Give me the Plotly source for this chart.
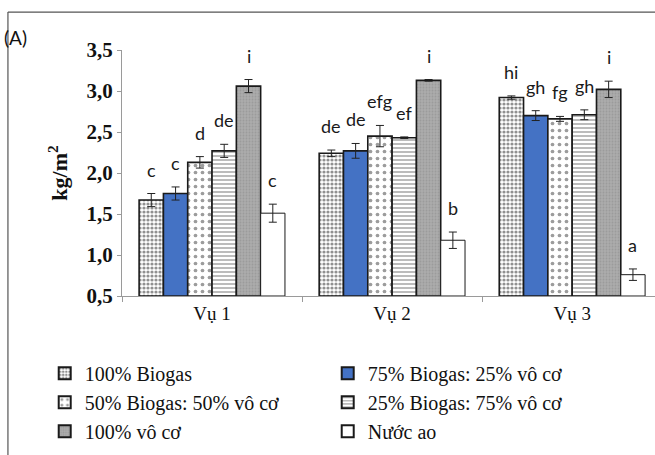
import plotly.graph_objects as go

seasons = ["Vụ 1", "Vụ 2", "Vụ 3"]
series_names = ["100% Biogas", "75% Biogas: 25% vô cơ", "50% Biogas: 50% vô cơ",
                "25% Biogas: 75% vô cơ", "100% vô cơ", "Nước ao"]
values = [
    [1.67, 2.24, 2.92],
    [1.75, 2.27, 2.70],
    [2.13, 2.45, 2.66],
    [2.27, 2.43, 2.71],
    [3.06, 3.13, 3.02],
    [1.51, 1.18, 0.76],
]
errors = [
    [0.08, 0.04, 0.02],
    [0.08, 0.09, 0.06],
    [0.07, 0.13, 0.03],
    [0.08, 0.01, 0.06],
    [0.08, 0.01, 0.10],
    [0.11, 0.10, 0.07],
]
letters = [
    ["c", "de", "hi"],
    ["c", "de", "gh"],
    ["d", "efg", "fg"],
    ["de", "ef", "gh"],
    ["i", "i", "i"],
    ["c", "b", "a"],
]
y_ticks = [0.5, 1.0, 1.5, 2.0, 2.5, 3.0, 3.5]

styles = [
    dict(color="white", pattern=dict(shape=".", fgcolor="#222222", size=4, solidity=0.5, bgcolor="white")),
    dict(color="#4472c4"),
    dict(color="white", pattern=dict(shape=".", fgcolor="#3a3a3a", size=7, solidity=0.22, bgcolor="white")),
    dict(color="white", pattern=dict(shape="-", fgcolor="#6a6a6a", size=4, solidity=0.45, bgcolor="white")),
    dict(color="#a8a8a8", pattern=dict(shape=".", fgcolor="#8c8c8c", size=3, solidity=0.3, bgcolor="#ababab")),
    dict(color="white"),
]

fig = go.Figure()
for i, name in enumerate(series_names):
    st = styles[i]
    marker = dict(color=st["color"], line=dict(color="#1a1a1a", width=1.6 if i < 5 else 1.0))
    if "pattern" in st:
        marker["pattern"] = st["pattern"]
    fig.add_trace(go.Bar(
        name=name, x=seasons, y=[v - 0.5 for v in values[i]], base=0.5,
        marker=marker,
        error_y=dict(type="data", array=errors[i], color="#222", thickness=1, width=4),
        hoverinfo="skip",
    ))

bargap = 0.19
n = len(series_names)
bw = (1 - bargap) / n
letter_font = dict(family="Lato, Noto Sans, sans-serif", size=18, color="#1a1a1a")
for i in range(n):
    for g in range(len(seasons)):
        xc = g - (1 - bargap) / 2 + bw * (i + 0.5)
        fig.add_annotation(x=xc, y=values[i][g] + errors[i][g], text=letters[i][g],
                           showarrow=False, yanchor="bottom", yshift=11, font=letter_font)

fig.add_annotation(xref="paper", yref="paper", x=-0.226, y=1.05, xanchor="left", yanchor="middle",
                   text="(A)", showarrow=False,
                   font=dict(family="Lato, Noto Sans, sans-serif", size=19, color="#111"))

# frame lines
fig.add_shape(type="line", xref="paper", yref="paper", x0=-0.214, x1=1.0, y0=1.154, y1=1.154,
              layer="above", line=dict(color="#555", width=1.2))
fig.add_shape(type="line", xref="paper", yref="paper", x0=-0.214, x1=-0.214, y0=1.154, y1=-0.65,
              layer="above", line=dict(color="#555", width=1.2))

fig.update_layout(
    width=655, height=455,
    margin=dict(l=122, r=0, t=50, b=159, autoexpand=False),
    paper_bgcolor="white", plot_bgcolor="white",
    barmode="group", bargap=bargap, bargroupgap=0,
    separators=", ",
    showlegend=True,
    legend=dict(orientation="h", x=-0.145, xanchor="left", y=-0.235, yanchor="top",
                entrywidth=238, entrywidthmode="pixels",
                font=dict(family="Liberation Serif, serif", size=20, color="#111"),
                itemsizing="constant", tracegroupgap=0),
    xaxis=dict(type="category", range=[-0.5, 2.46], showline=True, linecolor="#9a9a9a",
               ticks="outside", tickson="boundaries", ticklen=5, tickcolor="#9a9a9a",
               tickfont=dict(family="Liberation Serif, serif", size=19, color="#111"),
               showgrid=False),
    yaxis=dict(range=[0.5, 3.5], tickvals=y_ticks, tickformat=".1f", showline=True,
               linecolor="#9a9a9a", ticks="outside", ticklen=4, tickcolor="#9a9a9a",
               showgrid=False, zeroline=False,
               tickfont=dict(family="Liberation Serif, serif", size=21, color="#111", weight="bold"),
               title=dict(text="<b>kg/m<sup>2</sup></b>", standoff=12,
                          font=dict(family="Liberation Serif, serif", size=22, color="#111"))),
)

fig.write_html("out.html", config={"displayModeBar": False},
               post_script="document.body.style.margin='0px';")
